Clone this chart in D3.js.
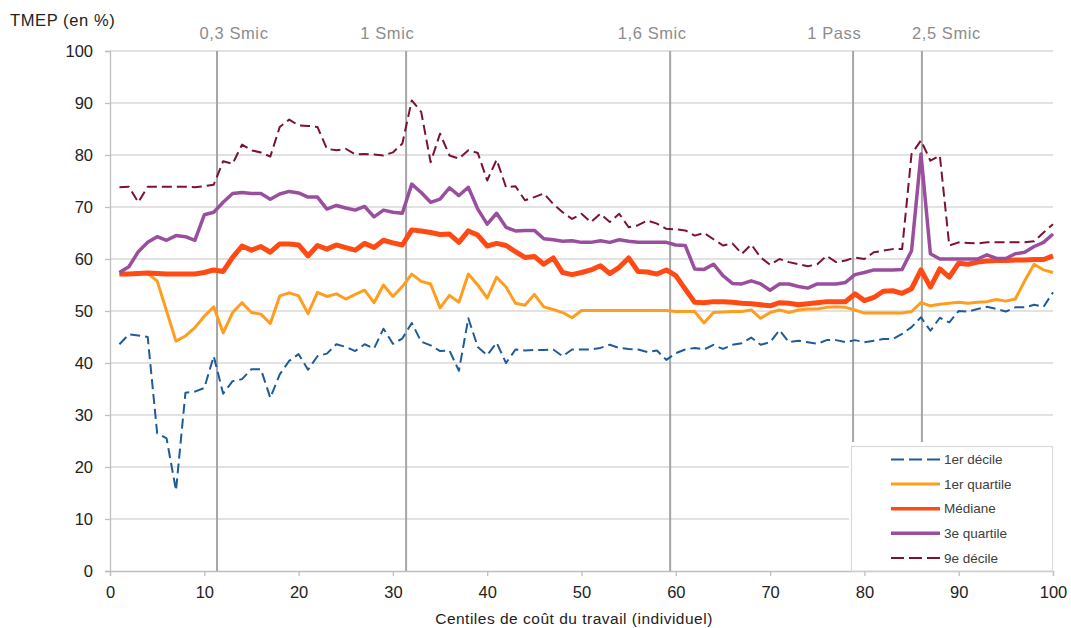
<!DOCTYPE html>
<html>
<head>
<meta charset="utf-8">
<script src="https://cdn.jsdelivr.net/npm/d3@7"></script>
<style>
  html, body { margin: 0; padding: 0; background: #fff; }
  svg { display: block; font-family: "Liberation Sans", Arial, sans-serif; }
</style>
</head>
<body>
<svg id="chart" width="1071" height="628"></svg>
<script>
// Centiles of labour cost (x categories)
const centiles = d3.range(1, 101);

// TMEP (%) by centile
const decile1 = [
  43.6, 45.5, 45.3, 45.0, 26.5, 25.5, 15.5, 34.3, 34.5, 35.2,
  41.3, 34.1, 36.5, 36.9, 38.8, 38.8, 33.3, 37.8, 40.4, 41.7,
  38.7, 41.3, 41.8, 43.6, 43.1, 42.3, 43.6, 42.8, 46.6, 43.7,
  44.7, 47.7, 44.1, 43.4, 42.3, 42.4, 38.5, 48.6, 43.1, 41.5,
  43.9, 40.0, 42.6, 42.4, 42.5, 42.5, 42.6, 41.3, 42.6, 42.6,
  42.6, 42.9, 43.5, 42.9, 42.7, 42.6, 42.1, 42.4, 40.6, 41.9,
  42.6, 42.9, 42.6, 43.5, 42.7, 43.5, 43.8, 44.9, 43.5, 44.0,
  46.3, 44.0, 44.3, 44.0, 43.7, 44.4, 44.4, 44.0, 44.4, 44.0,
  44.3, 44.6, 44.6, 45.6, 46.9, 48.8, 46.2, 48.7, 47.8, 50.0,
  49.9, 50.4, 50.8, 50.4, 49.9, 50.7, 50.7, 51.2, 50.8, 53.6
];
const quartile1 = [
  57.1, 57.1, 57.2, 57.2, 55.8, 50.0, 44.2, 45.2, 46.8, 49.0,
  50.8, 45.8, 49.7, 51.6, 49.7, 49.4, 47.6, 52.9, 53.5, 52.9,
  49.5, 53.6, 52.8, 53.3, 52.3, 53.2, 54.0, 51.6, 55.0, 52.8,
  54.7, 57.1, 55.7, 55.2, 50.6, 53.0, 51.7, 57.1, 55.0, 52.5,
  56.5, 54.6, 51.5, 51.1, 53.2, 50.8, 50.3, 49.7, 48.7, 50.1,
  50.1, 50.1, 50.1, 50.1, 50.1, 50.1, 50.1, 50.1, 50.1, 49.9,
  49.9, 49.9, 47.7, 49.7, 49.8, 49.9, 49.9, 50.2, 48.6, 49.7,
  50.2, 49.7, 50.2, 50.4, 50.4, 50.7, 50.8, 50.7, 50.2, 49.6,
  49.6, 49.6, 49.6, 49.6, 49.9, 51.6, 51.0, 51.3, 51.5, 51.7,
  51.5, 51.7, 51.8, 52.2, 51.9, 52.3, 55.8, 59.0, 57.9, 57.4
];
const mediane = [
  57.1, 57.1, 57.2, 57.3, 57.2, 57.1, 57.1, 57.1, 57.1, 57.4,
  57.9, 57.6, 60.3, 62.5, 61.7, 62.4, 61.3, 62.9, 62.9, 62.7,
  60.6, 62.6, 61.9, 62.7, 62.2, 61.7, 63.0, 62.2, 63.6, 63.1,
  62.7, 65.6, 65.4, 65.1, 64.7, 64.8, 63.2, 65.4, 64.6, 62.5,
  63.0, 62.6, 61.4, 60.3, 60.5, 59.0, 60.2, 57.4, 57.0, 57.4,
  57.9, 58.7, 57.2, 58.4, 60.2, 57.6, 57.5, 57.1, 57.9, 56.8,
  54.2, 51.7, 51.6, 51.8, 51.8, 51.7, 51.5, 51.4, 51.2, 51.0,
  51.6, 51.5, 51.2, 51.4, 51.6, 51.8, 51.8, 51.8, 53.3, 52.0,
  52.6, 53.8, 53.9, 53.4, 54.3, 57.9, 54.6, 58.1, 56.5, 59.2,
  59.0, 59.4, 59.6, 59.7, 59.7, 59.8, 59.8, 59.9, 59.9, 60.6
];
const quartile3 = [
  57.4, 58.5, 61.4, 63.2, 64.3, 63.6, 64.5, 64.3, 63.6, 68.5,
  69.0, 70.9, 72.6, 72.8, 72.6, 72.6, 71.5, 72.5, 73.0, 72.7,
  71.9, 71.9, 69.6, 70.3, 69.8, 69.4, 70.1, 68.1, 69.4, 69.0,
  68.8, 74.4, 72.8, 70.9, 71.5, 73.7, 72.2, 73.8, 69.6, 66.7,
  68.8, 66.1, 65.4, 65.5, 65.5, 63.9, 63.7, 63.4, 63.5, 63.2,
  63.2, 63.5, 63.2, 63.7, 63.4, 63.2, 63.2, 63.2, 63.2, 62.7,
  62.6, 58.1, 58.0, 59.0, 56.8, 55.3, 55.2, 55.8, 55.2, 54.0,
  55.2, 55.2, 54.7, 54.4, 55.2, 55.2, 55.2, 55.5, 57.0, 57.4,
  57.9, 57.9, 57.9, 58.0, 61.6, 80.2, 61.0, 60.0, 60.0, 60.0,
  60.0, 60.0, 60.8, 60.1, 60.1, 61.0, 61.3, 62.4, 63.2, 64.8
];
const decile9 = [
  73.8, 73.9, 70.9, 73.9, 73.9, 73.9, 73.9, 73.9, 73.8, 74.0,
  74.3, 78.8, 78.3, 82.0, 80.9, 80.5, 79.7, 85.4, 86.8, 85.7,
  85.6, 85.4, 81.2, 80.9, 81.2, 80.1, 80.2, 80.1, 79.9, 80.5,
  82.2, 90.5, 88.3, 78.6, 84.1, 79.9, 79.3, 80.9, 80.4, 75.1,
  79.1, 73.8, 74.0, 71.3, 71.9, 72.6, 70.6, 69.0, 67.7, 68.7,
  67.1, 68.7, 67.1, 68.7, 66.1, 66.5, 67.4, 66.8, 65.8, 65.7,
  65.5, 64.5, 65.0, 63.8, 62.6, 63.0, 61.0, 62.8, 60.3, 58.9,
  60.0, 59.4, 59.0, 58.6, 59.0, 60.6, 59.4, 59.7, 60.3, 60.0,
  61.3, 61.6, 61.9, 61.9, 80.2, 82.8, 78.9, 79.9, 62.6, 63.2,
  63.1, 63.0, 63.2, 63.2, 63.2, 63.2, 63.2, 63.4, 65.1, 66.7
];

// Threshold markers (position on the centile axis) and their captions
const refNames = ["0,3 Smic", "1 Smic", "1,6 Smic", "1 Pass", "2,5 Smic"];
const refPositions = [11.35, 31.4, 59.4, 78.8, 86.1];
const refLabelPositions = [13.15, 29.4, 57.5, 76.8, 88.7];

const yTicks = [0, 10, 20, 30, 40, 50, 60, 70, 80, 90, 100];
const xTicks = [0, 10, 20, 30, 40, 50, 60, 70, 80, 90, 100];

const seriesNames = ["1er décile", "1er quartile", "Médiane", "3e quartile", "9e décile"];
const seriesValues = [decile1, quartile1, mediane, quartile3, decile9];
const seriesColors = ["#1f5b98", "#ff9d1f", "#ff4a14", "#994f9e", "#7a1235"];
const seriesWidths = [2, 3, 5, 3.5, 2];
const seriesDash = ["10,5", null, null, null, "10,5"];

const svg = d3.select("#chart");
const x = d3.scaleLinear().domain([0, 100]).range([110, 1053]);
const y = d3.scaleLinear().domain([0, 100]).range([571, 51]);

// horizontal gridlines
svg.append("g")
  .selectAll("line")
  .data(yTicks.filter(d => d > 0))
  .join("line")
  .attr("x1", x(0)).attr("x2", x(100))
  .attr("y1", d => y(d)).attr("y2", d => y(d))
  .attr("stroke", "#d9d9d9").attr("stroke-width", 1.3);

// y axis
const yAxis = svg.append("g")
  .attr("transform", `translate(${x(0)},0)`)
  .call(d3.axisLeft(y).tickValues(yTicks).tickSize(5).tickPadding(12));
yAxis.select(".domain").attr("stroke", "#bfbfbf").attr("stroke-width", 1.3);
yAxis.selectAll(".tick line").attr("stroke", "#bfbfbf").attr("stroke-width", 1.3);
yAxis.selectAll(".tick text").attr("font-size", 16.5).attr("fill", "#222")
  .attr("font-family", "Liberation Sans, Arial, sans-serif");

// x axis
const xAxis = svg.append("g")
  .attr("transform", `translate(0,${y(0)})`)
  .call(d3.axisBottom(x).tickValues(xTicks).tickSize(5).tickPadding(10).tickFormat(d3.format("d")));
xAxis.select(".domain").attr("stroke", "#bfbfbf").attr("stroke-width", 1.3);
xAxis.selectAll(".tick line").attr("stroke", "#bfbfbf").attr("stroke-width", 1.3);
xAxis.selectAll(".tick text").attr("font-size", 16.5).attr("fill", "#222")
  .attr("font-family", "Liberation Sans, Arial, sans-serif");

// threshold lines
svg.append("g")
  .selectAll("line")
  .data(refPositions)
  .join("line")
  .attr("x1", d => x(d)).attr("x2", d => x(d))
  .attr("y1", y(100)).attr("y2", y(0))
  .attr("stroke", "#a6a6a6").attr("stroke-width", 2);

svg.append("g")
  .selectAll("text")
  .data(refNames)
  .join("text")
  .attr("x", (d, i) => x(refLabelPositions[i]))
  .attr("y", 39)
  .attr("text-anchor", "middle")
  .attr("font-size", 16.5)
  .attr("letter-spacing", 0.6)
  .attr("fill", "#8c8c8c")
  .text(d => d);

// series
const line = d3.line()
  .x((d, i) => x(centiles[i]))
  .y(d => y(d));

svg.append("g")
  .selectAll("path")
  .data(seriesValues)
  .join("path")
  .attr("d", d => line(d))
  .attr("fill", "none")
  .attr("stroke", (d, i) => seriesColors[i])
  .attr("stroke-width", (d, i) => seriesWidths[i])
  .attr("stroke-dasharray", (d, i) => seriesDash[i])
  .attr("stroke-linejoin", "round");

// legend
const lg = svg.append("g");
lg.append("rect")
  .attr("x", 849).attr("y", 442).attr("width", 206).attr("height", 128)
  .attr("fill", "#fff");
lg.append("rect")
  .attr("x", 851.5).attr("y", 446.5).attr("width", 201).attr("height", 124.5)
  .attr("fill", "#fff").attr("stroke", "#d9d9d9").attr("stroke-width", 1.2);
const items = lg.selectAll("g.item")
  .data(seriesNames)
  .join("g")
  .attr("class", "item")
  .attr("transform", (d, i) => `translate(0,${459.5 + i * 24.6})`);
items.append("line")
  .attr("x1", 891).attr("x2", 940).attr("y1", 0).attr("y2", 0)
  .attr("stroke", (d, i) => seriesColors[i])
  .attr("stroke-width", (d, i) => Math.min(seriesWidths[i], 3.5))
  .attr("stroke-dasharray", (d, i) => seriesDash[i] ? "13,5" : null);
items.append("text")
  .attr("x", 944).attr("y", 0).attr("dy", "0.35em")
  .attr("font-size", 13.5).attr("fill", "#404040")
  .text(d => d);

// titles
svg.append("text")
  .attr("x", 10).attr("y", 26)
  .attr("font-size", 16.5).attr("letter-spacing", 0.6).attr("fill", "#222")
  .text("TMEP (en %)");
svg.append("text")
  .attr("x", 574).attr("y", 624)
  .attr("text-anchor", "middle")
  .attr("font-size", 15.5).attr("letter-spacing", 0.5).attr("fill", "#222")
  .text("Centiles de coût du travail (individuel)");
</script>
</body>
</html>
